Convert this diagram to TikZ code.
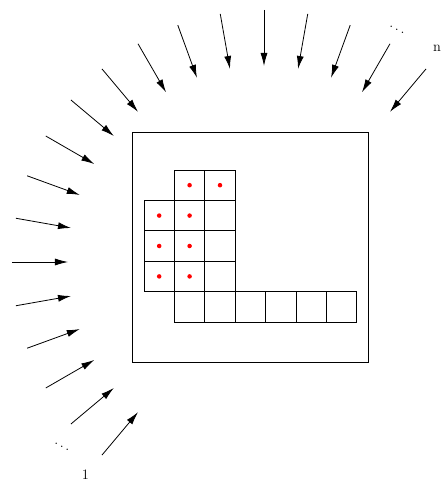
\documentclass[tikz,border=0pt]{standalone}
\usepackage{amsmath}
\usepackage{xcolor}
\usepackage{tikz}
\usetikzlibrary{arrows.meta}
\tikzset{
  cell/.style={
    draw,
    rectangle,
    minimum size=30.4pt,
    inner sep=0pt,
    outer sep=0pt
  },
  seed/.style={
    circle,
    fill=red,
    inner sep=1.6pt
  },
  ray/.style={
    -{Latex[length=13pt,width=7pt]}
  }
}

\begin{document}
\begin{tikzpicture}[line width=0.8pt, x=1pt, y=1pt]
  \useasboundingbox (-264,-220) rectangle (177,262);

  \node[draw, rectangle, minimum width=236pt, minimum height=230pt, inner sep=0pt] (frame) at (-14,15) {};

  \node[cell] (q10) at (-74.4,-44.8) {};
  \node[cell] (q20) at (-44,-44.8) {};
  \node[cell] (q30) at (-13.6,-44.8) {};
  \node[cell] (q40) at (16.8,-44.8) {};
  \node[cell] (q50) at (47.2,-44.8) {};
  \node[cell] (q60) at (77.6,-44.8) {};
  \node[cell] (q01) at (-104.8,-14.4) {};
  \node[cell] (q11) at (-74.4,-14.4) {};
  \node[cell] (q21) at (-44,-14.4) {};
  \node[cell] (q02) at (-104.8,16) {};
  \node[cell] (q12) at (-74.4,16) {};
  \node[cell] (q22) at (-44,16) {};
  \node[cell] (q03) at (-104.8,46.4) {};
  \node[cell] (q13) at (-74.4,46.4) {};
  \node[cell] (q23) at (-44,46.4) {};
  \node[cell] (q14) at (-74.4,76.8) {};
  \node[cell] (q24) at (-44,76.8) {};

  \node[seed] at (q14) {};
  \node[seed] at (q24) {};
  \node[seed] at (q03) {};
  \node[seed] at (q13) {};
  \node[seed] at (q02) {};
  \node[seed] at (q12) {};
  \node[seed] at (q01) {};
  \node[seed] at (q11) {};

  \coordinate (src1) at (230:252);
  \coordinate (hit1) at (230:196);
  \coordinate (src2) at (220:252);
  \coordinate (hit2) at (220:196);
  \coordinate (src3) at (210:252);
  \coordinate (hit3) at (210:196);
  \coordinate (src4) at (200:252);
  \coordinate (hit4) at (200:196);
  \coordinate (src5) at (190:252);
  \coordinate (hit5) at (190:196);
  \coordinate (src6) at (180:252);
  \coordinate (hit6) at (180:196);
  \coordinate (src7) at (170:252);
  \coordinate (hit7) at (170:196);
  \coordinate (src8) at (160:252);
  \coordinate (hit8) at (160:196);
  \coordinate (src9) at (150:252);
  \coordinate (hit9) at (150:196);
  \coordinate (src10) at (140:252);
  \coordinate (hit10) at (140:196);
  \coordinate (src11) at (130:252);
  \coordinate (hit11) at (130:196);
  \coordinate (src12) at (120:252);
  \coordinate (hit12) at (120:196);
  \coordinate (src13) at (110:252);
  \coordinate (hit13) at (110:196);
  \coordinate (src14) at (100:252);
  \coordinate (hit14) at (100:196);
  \coordinate (src15) at (90:252);
  \coordinate (hit15) at (90:196);
  \coordinate (src16) at (80:252);
  \coordinate (hit16) at (80:196);
  \coordinate (src17) at (70:252);
  \coordinate (hit17) at (70:196);
  \coordinate (src18) at (60:252);
  \coordinate (hit18) at (60:196);
  \coordinate (src19) at (50:252);
  \coordinate (hit19) at (50:196);

  \draw[ray] (src1) -- (hit1);
  \draw[ray] (src2) -- (hit2);
  \draw[ray] (src3) -- (hit3);
  \draw[ray] (src4) -- (hit4);
  \draw[ray] (src5) -- (hit5);
  \draw[ray] (src6) -- (hit6);
  \draw[ray] (src7) -- (hit7);
  \draw[ray] (src8) -- (hit8);
  \draw[ray] (src9) -- (hit9);
  \draw[ray] (src10) -- (hit10);
  \draw[ray] (src11) -- (hit11);
  \draw[ray] (src12) -- (hit12);
  \draw[ray] (src13) -- (hit13);
  \draw[ray] (src14) -- (hit14);
  \draw[ray] (src15) -- (hit15);
  \draw[ray] (src16) -- (hit16);
  \draw[ray] (src17) -- (hit17);
  \draw[ray] (src18) -- (hit18);
  \draw[ray] (src19) -- (hit19);

  \node[font=\Large] (first) at (230:278) {1};
  \node[font=\Large] (last) at (51:275) {n};
  \node[font=\Large] (gapA) at (222:272) {$\ddots$};
  \node[font=\Large] (gapB) at (60.5:270) {$\ddots$};
\end{tikzpicture}
\end{document}
